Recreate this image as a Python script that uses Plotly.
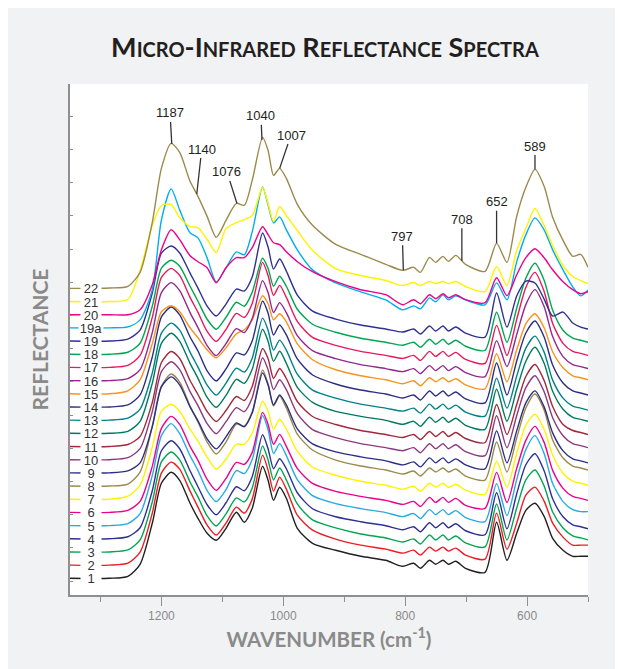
import numpy as np
import plotly.graph_objects as go

# wavenumber grid (cm-1)
wavenumber = [1350, 1285, 1255, 1235, 1215, 1200, 1184, 1170, 1153, 1140, 1125, 1110, 1094, 1077, 1064,
              1051, 1034, 1025, 1016, 1006, 995, 977, 952, 914, 873, 832, 804, 786, 775, 760, 750, 738,
              729, 717, 701, 669, 650, 633, 617, 602, 587, 572, 558, 541, 525, 512, 500]

# reflectance of each spectrum (arbitrary units, above that spectrum's own baseline)
s1 = [0, 0, 2, 14, 55, 95, 106, 98, 75, 60, 45, 38, 50, 66, 56, 70, 112, 98, 78, 91, 80, 50, 35, 28, 22, 18,
      12, 15, 10, 18, 14, 18, 14, 17, 10, 6, 56, 18, 45, 68, 75, 62, 40, 28, 22, 22, 22]
s2 = [0, 0, 2, 13, 52, 92, 103, 96, 74, 58, 40, 30, 42, 58, 52, 66, 110, 95, 74, 88, 76, 50, 35, 26, 20, 16,
      12, 15, 10, 18, 14, 18, 14, 17, 10, 6, 52, 16, 42, 70, 78, 64, 42, 28, 20, 20, 20]
s3 = [0, 0, 2, 12, 50, 90, 100, 92, 70, 55, 36, 26, 38, 54, 50, 64, 106, 92, 72, 84, 72, 48, 32, 24, 18, 14,
      10, 13, 8, 17, 12, 17, 12, 16, 9, 5, 48, 12, 44, 72, 82, 66, 40, 24, 16, 14, 12]
s4 = [0, 0, 2, 11, 48, 88, 98, 90, 68, 52, 34, 24, 36, 52, 48, 62, 104, 90, 70, 80, 70, 46, 30, 22, 17, 13,
      9, 12, 7, 16, 11, 16, 11, 15, 8, 4, 46, 10, 45, 74, 85, 68, 40, 22, 14, 12, 10]
s5 = [0, 0, 2, 12, 50, 90, 102, 92, 70, 55, 35, 24, 36, 55, 52, 66, 110, 96, 72, 82, 70, 46, 30, 22, 17, 13,
      9, 12, 7, 16, 11, 16, 11, 15, 8, 4, 42, 10, 46, 76, 90, 72, 42, 24, 16, 14, 14]
s6 = [0, 0, 2, 11, 46, 84, 96, 88, 66, 52, 33, 22, 34, 50, 48, 60, 100, 88, 68, 78, 66, 44, 29, 21, 16, 12,
      8, 11, 6, 15, 10, 15, 10, 14, 7, 4, 40, 10, 44, 72, 86, 70, 42, 24, 16, 14, 12]
s7 = [0, 0, 3, 14, 52, 88, 95, 88, 70, 58, 42, 30, 40, 55, 55, 66, 98, 88, 70, 80, 70, 48, 32, 24, 18, 14,
      10, 13, 8, 16, 12, 16, 12, 15, 9, 5, 38, 12, 46, 74, 85, 70, 44, 26, 18, 16, 14]
s8 = [0, 0, 2, 14, 60, 100, 112, 104, 80, 64, 44, 32, 44, 62, 60, 74, 116, 102, 80, 90, 78, 52, 36, 26, 20, 16,
      12, 15, 10, 18, 14, 18, 14, 17, 10, 6, 44, 14, 48, 78, 92, 76, 46, 28, 20, 18, 16]
s9 = [0, 0, 2, 10, 46, 86, 96, 88, 66, 52, 34, 24, 36, 50, 46, 60, 100, 88, 68, 78, 68, 44, 29, 21, 16, 12,
      8, 11, 6, 15, 10, 15, 10, 14, 8, 4, 42, 10, 42, 70, 82, 66, 40, 22, 14, 12, 10]
s10 = [0, 0, 2, 11, 48, 88, 98, 90, 68, 54, 36, 26, 38, 52, 48, 62, 102, 90, 70, 80, 70, 46, 30, 22, 16, 12,
       9, 12, 7, 16, 11, 16, 11, 15, 8, 4, 44, 12, 44, 72, 84, 68, 42, 24, 16, 14, 12]
s11 = [0, 0, 2, 10, 44, 84, 95, 88, 66, 52, 35, 25, 36, 50, 46, 60, 98, 88, 68, 78, 68, 45, 30, 22, 16, 12,
       9, 12, 7, 15, 10, 15, 10, 14, 8, 4, 42, 12, 42, 70, 82, 66, 40, 22, 16, 14, 12]
s12 = [0, 0, 2, 12, 50, 90, 100, 92, 70, 55, 36, 26, 38, 54, 50, 64, 104, 92, 72, 82, 70, 46, 31, 22, 17, 13,
       9, 12, 7, 16, 11, 16, 11, 15, 8, 4, 44, 12, 44, 72, 86, 70, 42, 24, 16, 14, 12]
s13 = [0, 0, 2, 11, 47, 87, 97, 90, 68, 53, 35, 25, 37, 52, 48, 62, 102, 90, 70, 80, 70, 46, 30, 22, 16, 12,
       9, 12, 7, 16, 11, 16, 11, 15, 8, 4, 42, 12, 44, 72, 84, 68, 40, 22, 14, 12, 10]
s14 = [0, 0, 2, 12, 50, 90, 100, 92, 70, 56, 36, 26, 38, 54, 52, 66, 106, 94, 72, 82, 72, 48, 32, 23, 17, 13,
       9, 12, 7, 16, 11, 16, 11, 15, 8, 4, 44, 12, 46, 74, 86, 70, 42, 24, 16, 14, 12]
s15 = [0, 0, 3, 14, 50, 82, 88, 82, 66, 56, 44, 36, 46, 60, 64, 74, 98, 90, 74, 80, 72, 50, 34, 24, 18, 14,
       10, 13, 8, 16, 12, 16, 12, 15, 9, 5, 40, 12, 44, 70, 80, 66, 42, 26, 18, 16, 14]
s16 = [0, 0, 2, 11, 48, 88, 98, 90, 68, 53, 35, 25, 37, 52, 48, 62, 100, 88, 68, 78, 68, 45, 30, 22, 16, 12,
       9, 12, 7, 15, 10, 15, 10, 14, 8, 4, 40, 14, 46, 76, 91, 74, 44, 24, 16, 14, 12]
s17 = [0, 0, 2, 12, 50, 90, 99, 92, 70, 55, 36, 26, 38, 54, 50, 64, 105, 92, 72, 82, 70, 46, 30, 22, 16, 12,
       9, 12, 7, 16, 11, 16, 11, 15, 8, 4, 42, 12, 48, 80, 95, 76, 44, 24, 16, 14, 12]
s18 = [0, 0, 2, 11, 48, 86, 94, 88, 68, 53, 35, 25, 37, 52, 48, 62, 96, 86, 68, 78, 68, 45, 30, 22, 16, 12,
       9, 12, 7, 15, 10, 15, 10, 14, 8, 4, 42, 12, 46, 76, 91, 74, 44, 24, 16, 14, 12]
s19 = [0, 0, 2, 11, 48, 88, 95, 88, 68, 53, 35, 25, 37, 52, 50, 64, 108, 94, 72, 82, 70, 46, 30, 22, 16, 12,
       9, 12, 7, 15, 10, 15, 10, 14, 8, 4, 48, 14, 45, 60, 58, 42, 25, 29, 18, 14, 12]
s19a = [0, 0, 1, 8, 38, 108, 139, 118, 95, 90, 70, 46, 60, 76, 73, 96, 141, 123, 105, 111, 98, 78, 58, 45, 36,
        28, 18, 22, 19, 30, 26, 33, 28, 32, 28, 23, 45, 28, 66, 93, 110, 98, 78, 58, 41, 32, 38]
s20 = [0, 0, 0, 5, 30, 65, 85, 75, 59, 53, 47, 32, 47, 57, 57, 67, 88, 80, 72, 70, 63, 53, 43, 33, 25, 20, 10,
       15, 11, 20, 16, 21, 17, 20, 15, 12, 37, 19, 40, 57, 66, 57, 45, 33, 25, 21, 23]
s21 = [0, 0, 2, 31, 76, 96, 97, 84, 75, 74, 62, 49, 73, 79, 82, 86, 114, 98, 80, 95, 86, 71, 51, 33, 26, 21,
       16, 19, 16, 20, 18, 20, 18, 20, 15, 10, 35, 16, 51, 73, 93, 76, 56, 36, 25, 21, 18]
s22 = [0, 0.3, 2, 16, 66, 120, 145, 136, 107, 92, 72, 51, 68, 85, 83, 108, 151, 138, 113, 120, 110, 84, 63,
       44, 34, 24, 18, 21, 16, 31, 26, 32, 27, 33, 24, 17, 45, 26, 72, 101, 119, 102, 71, 48, 32, 34, 21]

series_labels = ["1", "2", "3", "4", "5", "6", "7", "8", "9", "10", "11", "12", "13", "14", "15", "16",
                 "17", "18", "19", "19a", "20", "21", "22"]
series_values = [s1, s2, s3, s4, s5, s6, s7, s8, s9, s10, s11, s12, s13, s14, s15, s16, s17, s18, s19,
                 s19a, s20, s21, s22]
colors = ["#231f20", "#ed1c24", "#00a651", "#2e3192", "#29abe2", "#ec008c", "#fff200", "#9b8a4c",
          "#2b2e83", "#8b3a7e", "#a0293d", "#007a5e", "#00818a", "#2b2e83", "#f7941d", "#92278f",
          "#e8185b", "#00a651", "#2e3192", "#00aeef", "#ec008c", "#fff200", "#9b8a4c"]

peak_labels = ["1187", "1140", "1076", "1040", "1007", "797", "708", "652", "589"]
peak_positions = [1183, 1142, 1076, 1035, 1006, 803, 707, 650, 587]

# layout geometry (px); the page adds an 8 px body margin
L, R, T, B = 62, 43, 76, 82
W, H = 623, 669
PW = W - L - R
PH = H - T - B
X0, X1 = 1350, 500
base0, step = 16.7, 13.18

fig = go.Figure()
for i, (lab, vals, col) in enumerate(zip(series_labels, series_values, colors)):
    off = base0 + step * i
    fig.add_trace(go.Scatter(x=wavenumber, y=[off + v for v in vals], mode="lines",
                             line=dict(color=col, width=1.4, shape="spline", smoothing=0.7),
                             name=lab, hoverinfo="skip"))

# series labels on the left
for i, (lab, col) in enumerate(zip(series_labels, colors)):
    off = base0 + step * i
    fig.add_annotation(x=1316, y=off, text=lab, showarrow=False, xanchor="center", yanchor="middle",
                       bgcolor="white", borderpad=0, width=24 if lab == "19a" else 20, height=12,
                       font=dict(family="Liberation Sans, Arial", size=13, color="#333333"))

# peak labels with leaders on spectrum 22
top_off = base0 + step * 22
wn_asc = wavenumber[::-1]
v_asc = s22[::-1]
offsets = [(-1.7, -31), (5, -45), (-10, -31.6), (-1, -24), (11.4, -33.3), (-1, -34), (0, -41.7),
           (0, -41.7), (0, -23.3)]
for lab, pos, (ax, ay) in zip(peak_labels, peak_positions, offsets):
    yv = top_off + float(np.interp(pos, wn_asc, v_asc))
    fig.add_annotation(x=pos, y=yv, text=lab, showarrow=True, arrowhead=0, arrowwidth=1.3,
                       arrowcolor="#333333", ax=ax, ay=ay, standoff=0,
                       font=dict(family="Liberation Sans, Arial", size=13, color="#231f20"))

sc = "font-size:20px"
title = ("M<span style='%s'>ICRO</span>-I<span style='%s'>NFRARED</span> "
         "R<span style='%s'>EFLECTANCE</span> S<span style='%s'>PECTRA</span>") % (sc, sc, sc, sc)

fig.update_layout(
    width=W, height=H,
    margin=dict(l=L, r=R, t=T, b=B),
    paper_bgcolor="#f1f2f4", plot_bgcolor="white",
    showlegend=False,
    title=dict(text=title, x=(317 - L) / PW, xref="paper", xanchor="center",
               y=1 - 40 / H, yref="container", yanchor="middle",
               font=dict(family="Lato, Open Sans", size=27, color="#231f20", weight=700)),
    xaxis=dict(range=[X0, X1], showgrid=False, zeroline=False, showline=True, linecolor="#8f8f8f",
               linewidth=1.5, ticks="outside", ticklen=9, tickcolor="#8f8f8f", tickwidth=1.2,
               tickvals=[1200, 1000, 800, 600], ticktext=["1200", "1000", "800", "600"],
               tickfont=dict(family="Liberation Sans, Arial", size=12, color="#8a8a8a"),
               minor=dict(tickvals=[1300, 1100, 900, 700, 500], ticks="outside", ticklen=5,
                          tickcolor="#8f8f8f", tickwidth=1.2),
               title=dict(text="WAVENUMBER (cm<sup>-1</sup>)", standoff=10,
                          font=dict(family="Lato, Open Sans", size=20.5, color="#8a8a8a", weight=700))),
    yaxis=dict(range=[0, PH], showgrid=False, zeroline=False, showline=True, linecolor="#8f8f8f",
               linewidth=1.5, ticks="inside", ticklen=3, tickcolor="#8f8f8f", tickwidth=1,
               tickvals=[14 + 33.2 * k for k in range(16)], showticklabels=False,
               title=dict(text="REFLECTANCE", standoff=14,
                          font=dict(family="Lato, Open Sans", size=21, color="#8a8a8a", weight=700))),
)

fig.write_html("out.html")
